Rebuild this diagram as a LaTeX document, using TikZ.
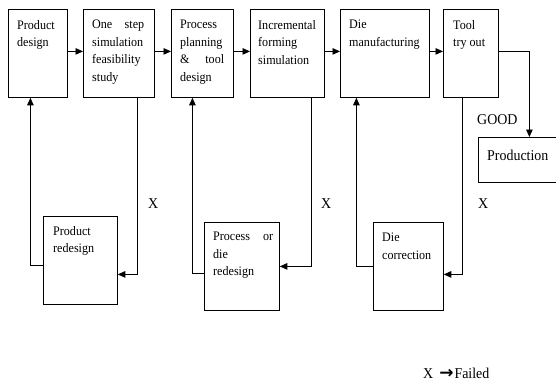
\documentclass[tikz,border=0pt]{standalone}
\usepackage{fontspec}
\setmainfont[FakeStretch=0.93]{Liberation Serif}
\newfontfamily\symfont{DejaVu Sans}
\usetikzlibrary{arrows.meta}
\newcommand\mkbox[5]{\node[blk, anchor=north west, inner sep=0pt, minimum width=#4pt, minimum height=#5pt] (#1) at (#2,#3) {};}
\begin{document}
\begin{tikzpicture}[x=1pt,y=-1pt,
 blk/.style={draw, line width=0.8pt},
 txt/.style={anchor=north west, inner sep=0pt, align=left, font=\fontsize{13}{17.5}\selectfont},
 lbl/.style={anchor=base west, inner sep=0pt, font=\fontsize{15}{16}\selectfont},
 arr/.style={line width=0.8pt, -{Triangle[length=7.5pt,width=6.5pt]}},
 ln/.style={line width=0.8pt}]
\useasboundingbox (0,0) rectangle (556,383);
% boxes
\mkbox{pd}{8}{9}{59}{88}
\mkbox{os}{83}{9}{71}{88}
\mkbox{pp}{171}{9}{62}{88}
\mkbox{inc}{250}{9}{74}{88}
\mkbox{dm}{340}{9}{89}{88}
\mkbox{tt}{443}{9}{55}{88}
\mkbox{prod}{478}{137}{102}{45}
\mkbox{prd}{43}{216}{74}{88}
\mkbox{pdr}{204}{222}{75}{88}
\mkbox{dc}{373}{222}{70}{88}
% texts
\node[txt] (pdt) at (17,20) {Product\\design};
\node[txt, text width=52pt] (ost) at (92,20) {One\hfill step\\simulation\\feasibility\\study};
\node[txt, text width=44pt] (ppt) at (180,20) {Process\\planning\\\&\hfill tool\\design};
\node[txt] (inct) at (258,20) {Incremental\\forming\\simulation};
\node[txt] (dmt) at (349,20) {Die\\manufacturing};
\node[txt] (ttt) at (453,20) {Tool\\try out};
\node[txt] (prdt) at (53,226) {Product\\redesign};
\node[txt, text width=60pt] (pdrt) at (213,232) {Process\hfill or\\die\\redesign};
\node[txt] (dct) at (382,233) {Die\\correction};
\node[lbl] (prodt) at (487,160) {Production};
\node[lbl] (good) at (477,124) {GOOD};
\node[lbl] (x1) at (148,208) {X};
\node[lbl] (x2) at (321,208) {X};
\node[lbl] (x3) at (478,208) {X};
\node[lbl] (leg) at (423,378) {X\hspace{6pt}{\symfont\bfseries\fontsize{17}{18}\selectfont →}\hspace{1pt}Failed};
% forward arrows
\draw[arr] ([yshift=2pt]pd.east) -- ([yshift=2pt]os.west);
\draw[arr] ([yshift=2pt]os.east) -- ([yshift=2pt]pp.west);
\draw[arr] ([yshift=2pt]pp.east) -- ([yshift=2pt]inc.west);
\draw[arr] ([yshift=2pt]inc.east) -- ([yshift=2pt]dm.west);
\draw[arr] ([yshift=2pt]dm.east) -- ([yshift=2pt]tt.west);
\draw[arr] ([yshift=2pt]tt.east) -| (prod.north);
% feedback loops
\draw[arr] ([xshift=18.5pt]os.south) |- ([yshift=-14pt]prd.east);
\draw[arr] ([yshift=-5pt]prd.west) -| ([xshift=-7.5pt]pd.south);
\draw[arr] ([xshift=24pt]inc.south) |- (pdr.east);
\draw[arr] ([yshift=-7pt]pdr.west) -| ([xshift=-10pt]pp.south);
\draw[arr] (dc.west) -| ([xshift=-28.5pt]dm.south);
\draw[arr] ([xshift=-8.5pt]tt.south) |- ([yshift=-8pt]dc.east);
\end{tikzpicture}
\end{document}
